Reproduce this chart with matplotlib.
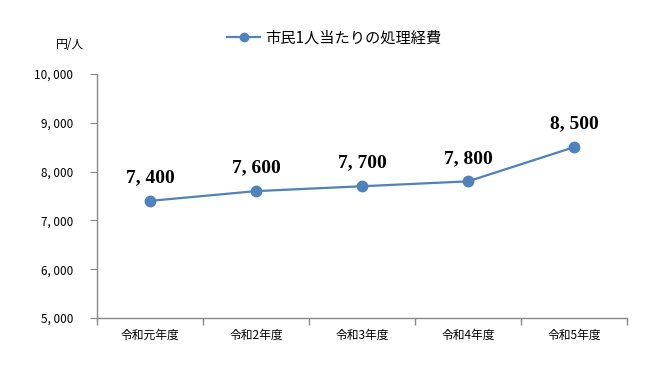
import matplotlib
matplotlib.use("Agg")
import matplotlib.pyplot as plt
from matplotlib.ticker import FuncFormatter, FixedLocator

plt.rcParams['font.family'] = ['Noto Sans CJK JP', 'DejaVu Sans']

categories = ["令和元年度", "令和2年度", "令和3年度", "令和4年度", "令和5年度"]
values = [7400, 7600, 7700, 7800, 8500]
series_name = "市民1人当たりの処理経費"
y_ticks = [5000, 6000, 7000, 8000, 9000, 10000]

color = "#4F81BD"
fig = plt.figure(figsize=(6.68, 3.73), dpi=100)
ax = fig.add_axes([97/668, 1-318/373, (627-97)/668, (318-74)/373])

x = list(range(len(categories)))
ax.plot(x, values, color=color, lw=1.6, marker='o', markersize=7.5,
        label=series_name, zorder=3)

for xi, v in zip(x, values):
    ax.annotate(f"{v:,}".replace(",", ", "), (xi, v), xytext=(0, 10.5),
                textcoords='offset points',
                ha='center', va='bottom', fontsize=14, fontweight='bold',
                family=['Liberation Serif'], color='black')

ax.set_xlim(-0.5, len(categories) - 0.5)
ax.set_ylim(5000, 10000)
ax.set_yticks(y_ticks)
ax.yaxis.set_major_formatter(FuncFormatter(lambda v, p: f"{int(v):,}".replace(",", ", ")))
ax.set_xticks(x)
ax.set_xticklabels(categories, fontsize=8.5)
ax.xaxis.set_minor_locator(FixedLocator([i - 0.5 for i in range(len(categories) + 1)]))
ax.tick_params(axis='x', which='major', length=0, pad=8)
ax.tick_params(axis='x', which='minor', length=5, color='#888888', width=1)
ax.tick_params(axis='y', length=5, color='#888888', labelsize=8.5, pad=12)

for s in ['top', 'right']:
    ax.spines[s].set_visible(False)
for s in ['left', 'bottom']:
    ax.spines[s].set_color('#888888')
    ax.spines[s].set_linewidth(1)

fig.text(70/668, 1-44/373, "円/人", ha='center', va='center', fontsize=8.5)

fig.legend(loc='center', bbox_to_anchor=(0.5, 1-38/373), frameon=False,
           fontsize=11, handlelength=2.2, handletextpad=0.3, markerscale=0.8)

fig.savefig("out.png", dpi=100)
